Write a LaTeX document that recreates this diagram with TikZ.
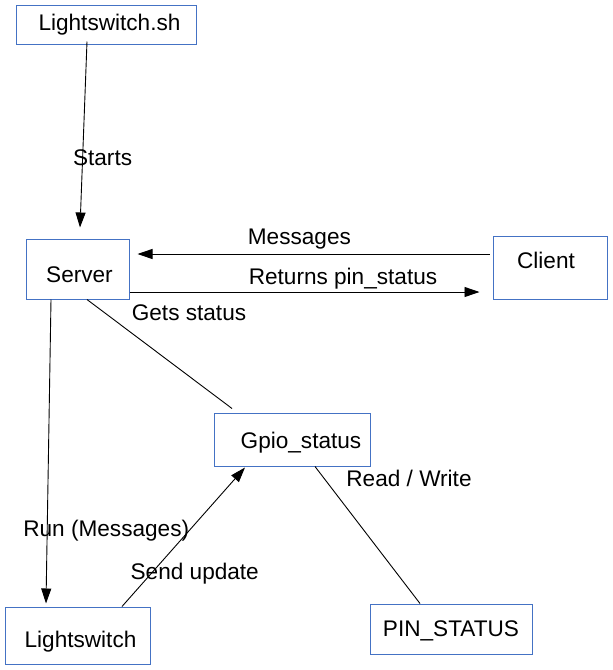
\documentclass[tikz,border=0pt]{standalone}
\usepackage{fontspec}
\setmainfont{Liberation Sans}
\usepackage{tikz}
\usetikzlibrary{arrows.meta}
\definecolor{boxblue}{RGB}{68,114,196}

\begin{document}
\begin{tikzpicture}[x=1pt,y=-1pt,font=\fontsize{22.6}{27}\selectfont]
            \tikzstyle{main node}=[draw=boxblue,line width=1pt,rectangle,inner sep=0pt]
            \tikzstyle{link}=[line width=0.9pt,-{Triangle[length=15pt,width=10pt]}]
            \useasboundingbox (0,0) rectangle (613,670);

            \node[main node,minimum width=180pt,minimum height=39pt,label={[xshift=3.5pt]center:Lightswitch.sh}] (script) at (106,24.5) {};
            \node[main node,minimum width=103pt,minimum height=60pt,label={[xshift=2pt,yshift=-6pt]center:Server}] (server) at (77.5,269) {};
            \node[main node,minimum width=114pt,minimum height=63pt,label={[xshift=-4pt,yshift=7.5pt]center:Client}] (client) at (550,267.5) {};
            \node[main node,minimum width=156pt,minimum height=53pt,label={[xshift=9pt,yshift=-3.5pt]center:Gpio\_status}] (gpio) at (292,439.5) {};
            \node[main node,minimum width=145pt,minimum height=57pt,label={[xshift=3pt,yshift=-6.5pt]center:Lightswitch}] (switch) at (77.5,635.5) {};
            \node[main node,minimum width=162pt,minimum height=50pt,label={[yshift=-2pt]center:PIN\_STATUS}] (pin) at (451,629) {};

            \draw[link] ([xshift=-19pt,yshift=3pt]script.south) -- ([xshift=2.5pt,yshift=11pt]server.north) node[draw=none,fill=none,pos=0.63,xshift=20pt,yshift=1pt] {Starts};
            \draw[link] ([xshift=-3pt,yshift=13.5pt]client.west) -- ([xshift=8pt,yshift=15pt]server.east) node[draw=none,fill=none,pos=0.54,yshift=15pt] {Messages};
            \draw[link] ([yshift=-23pt]server.east) -- ([xshift=-13pt,yshift=-24.5pt]client.west) node[draw=none,fill=none,pos=0.61,yshift=13pt] {Returns pin\_status};
            \draw[line width=0.9pt] ([xshift=9.5pt]server.south) -- ([xshift=-60pt,yshift=4pt]gpio.north) node[draw=none,fill=none,pos=0.3,xshift=58.5pt,yshift=19.7pt] {Gets status};
            \draw[link] ([xshift=-26.5pt]server.south) -- ([xshift=-31.5pt,yshift=3pt]switch.north) node[draw=none,fill=none,pos=0.753,xshift=59pt,yshift=-2pt] {Run (Messages)};
            \draw[link] ([xshift=44.5pt]switch.north) -- ([xshift=-47pt,yshift=-1pt]gpio.south) node[draw=none,fill=none,pos=0.25,xshift=42pt,yshift=-2pt] {Send update};
            \draw[line width=0.9pt] ([xshift=23pt]gpio.south) -- ([xshift=-31pt]pin.north) node[draw=none,fill=none,pos=0.1,xshift=83.5pt,yshift=2pt] {Read / Write};
        \end{tikzpicture}
\end{document}
